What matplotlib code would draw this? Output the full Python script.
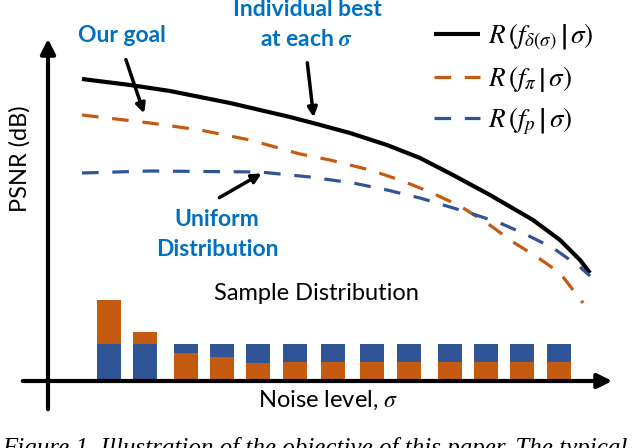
import matplotlib.pyplot as plt

# canvas is drawn in pixel units (x right, y down), like the reference picture
W, H = 640, 448
DPI = 100

BLACK = "black"
ORANGE = "#C55A11"
BLUE = "#2F5597"
TEXT_BLUE = "#0070C0"

# curves (x, y in pixels)
best_x = [82, 130, 170, 200, 230, 260, 290, 313, 350, 387, 420, 453, 490, 533, 560, 580, 590]
best_y = [79, 85, 91, 97, 103, 110, 117, 123, 133, 145, 158, 175, 195, 220, 240, 260, 273]

goal_x = [82, 150, 200, 250, 300, 330, 370, 400, 430, 460, 487, 513, 537, 560, 583]
goal_y = [115, 123, 130, 140, 154, 160, 170, 180, 192, 206, 223, 242, 257, 273, 303]

unif_x = [82, 150, 260, 310, 353, 387, 420, 470, 500, 527, 553, 580, 590]
unif_y = [173, 171, 172, 177, 183, 190, 198, 213, 223, 235, 248, 267, 276]

# sample distribution bars (1.0 = uniform height)
bar_x = [108.5, 145, 185.5, 222, 258, 294.5, 333, 371.5, 409, 449.5, 486, 521.5, 558.5]
bar_orange = [1.26, 0.34, 0.74, 0.63, 0.46, 0.49, 0.49, 0.49, 0.49, 0.49, 0.49, 0.49, 0.49]
bar_blue = [1.0, 1.0, 0.26, 0.37, 0.54, 0.51, 0.51, 0.51, 0.51, 0.51, 0.51, 0.51, 0.51]
blue_first = [True, True] + [False] * 11

BASE_Y = 379
UNIT_PX = 35

plt.rcParams["mathtext.fontset"] = "stix"

fig = plt.figure(figsize=(W / DPI, H / DPI), dpi=DPI)

# bars live in their own axes so that heights go up from the baseline
bax = fig.add_axes([0, (H - BASE_Y) / H, 1, 100 / H])
bax.set_xlim(0, W)
bax.set_ylim(0, 100 / UNIT_PX)
bax.axis("off")
for x, o, b, bf in zip(bar_x, bar_orange, bar_blue, blue_first):
    if bf:
        bax.bar(x, b, width=24, color=BLUE)
        bax.bar(x, o, width=24, bottom=b, color=ORANGE)
    else:
        bax.bar(x, o, width=24, color=ORANGE)
        bax.bar(x, b, width=24, bottom=o, color=BLUE)

ax = fig.add_axes([0, 0, 1, 1])
ax.set_xlim(0, W)
ax.set_ylim(H, 0)
ax.axis("off")
ax.patch.set_alpha(0)

# axes arrows
ax.annotate("", xy=(48, 36), xytext=(48, 412),
            arrowprops=dict(arrowstyle="-|>", lw=3, color=BLACK, mutation_scale=22))
ax.annotate("", xy=(615, 381), xytext=(20, 381),
            arrowprops=dict(arrowstyle="-|>", lw=3, color=BLACK, mutation_scale=22))

ax.plot(best_x, best_y, color=BLACK, lw=3, solid_capstyle="butt",
        label=r"$R\,\left(f_{\delta(\sigma)}\,\middle|\,\sigma\right)$")
ax.plot(goal_x, goal_y, color=ORANGE, lw=2.3, dashes=(5.2, 4.3), dash_capstyle="butt",
        label=r"$R\,\left(f_{\pi}\,\middle|\,\sigma\right)$")
ax.plot(unif_x, unif_y, color=BLUE, lw=2.3, dashes=(5.2, 4.3), dash_capstyle="butt",
        label=r"$R\,\left(f_{p}\,\middle|\,\sigma\right)$")

ax.legend(loc="upper left", bbox_to_anchor=(434 / W, 1 - 22 / H), frameon=False,
          fontsize=19.5, handlelength=1.7, handletextpad=0.3, labelspacing=0.42,
          borderpad=0, borderaxespad=0)

# annotations
arrow = dict(arrowstyle="-|>", lw=2.5, color=BLACK, mutation_scale=14)
ax.annotate("", xy=(145, 116), xytext=(125, 57), arrowprops=arrow)
ax.annotate("", xy=(314, 120), xytext=(307, 60), arrowprops=arrow)
ax.annotate("", xy=(264, 172), xytext=(217, 199), arrowprops=arrow)

blue_font = dict(color=TEXT_BLUE, fontsize=16.5, fontweight="bold", family="Lato",
                 ha="center", va="center")
ax.text(122, 35, "Our goal", **blue_font)
ax.text(307, 10, "Individual best", **blue_font)
ax.text(307, 40, r"at each $\boldsymbol{\sigma}$", **blue_font)
ax.text(217, 219, "Uniform", **blue_font)
ax.text(217, 249, "Distribution", **blue_font)

ax.text(316, 293, "Sample Distribution", fontsize=17, family="Lato",
        ha="center", va="center")
ax.text(328, 400, r"Noise level, $\sigma$", fontsize=17, family="Lato",
        ha="center", va="center")
ax.text(20, 159, "PSNR (dB)", fontsize=17, family="Lato", rotation=90,
        ha="center", va="center")

ax.text(2, 437, "Figure 1. Illustration of the objective of this paper. The typical",
        fontsize=18, family="Liberation Serif", style="italic", ha="left", va="top")

plt.savefig("out.png", dpi=DPI)
plt.close()
